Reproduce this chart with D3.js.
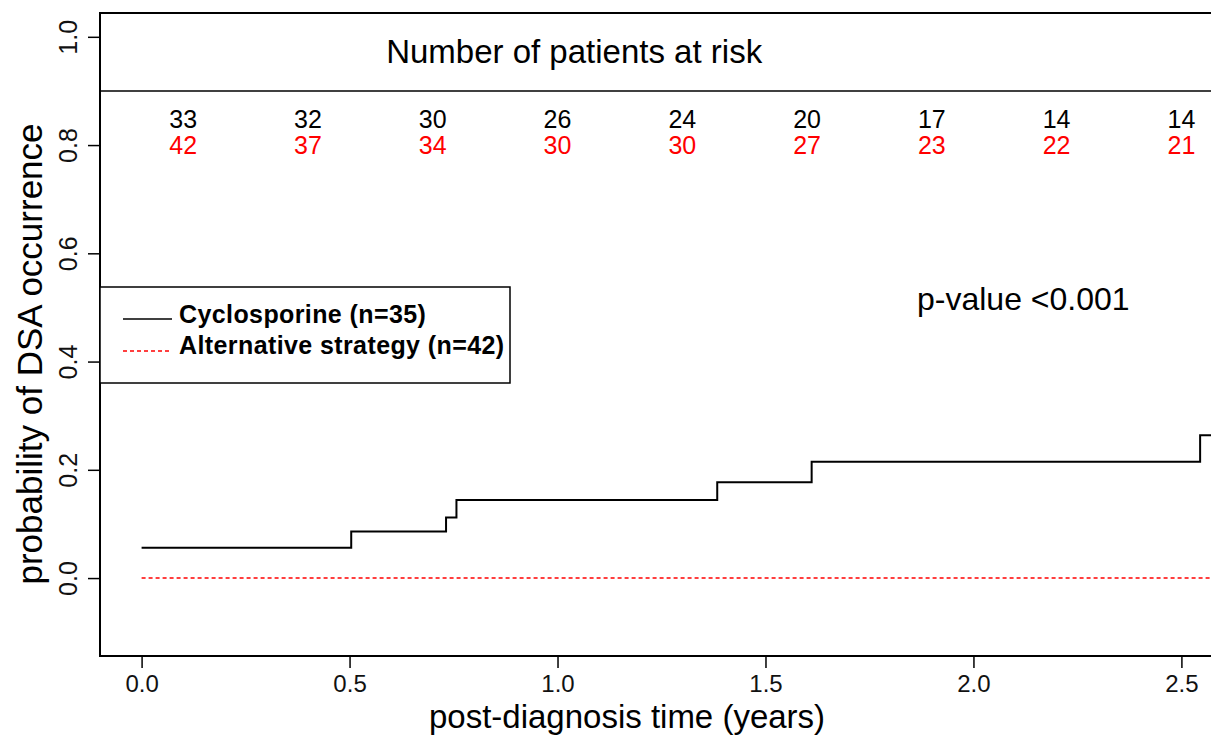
<!DOCTYPE html>
<html>
<head>
<meta charset="utf-8">
<script src="https://cdn.jsdelivr.net/npm/d3@7"></script>
<style>
  body { margin: 0; background: #fff; }
  text { font-family: "Liberation Sans", Arial, sans-serif; }
</style>
</head>
<body>
<div id="app"></div>
<script>
// numbers at risk, read every 0.3 years
var riskTimes = [0.1, 0.4, 0.7, 1.0, 1.3, 1.6, 1.9, 2.2, 2.5];
var riskCyclo = [33, 32, 30, 26, 24, 20, 17, 14, 14];
var riskAlt = [42, 37, 34, 30, 30, 27, 23, 22, 21];

// cumulative incidence step curves
var cycloTimes = [0, 0.504, 0.732, 0.757, 1.384, 1.611, 2.545];
var cycloProb = [0.056, 0.086, 0.112, 0.144, 0.177, 0.215, 0.264];
var altTimes = [0];
var altProb = [0];

var xTicks = [0, 0.5, 1.0, 1.5, 2.0, 2.5];
var yTicks = [0, 0.2, 0.4, 0.6, 0.8, 1.0];
var legendLabels = ["Cyclosporine (n=35)", "Alternative strategy (n=42)"];

var W = 1211, H = 736;
var svg = d3.select('#app').append('svg').attr('width', W).attr('height', H);

// the plot box runs off the right edge of the picture
var x = d3.scaleLinear().domain([-0.1, 2.6]).range([100, 1223]);
var y = d3.scaleLinear().domain([-0.144, 1.044]).range([656, 13]);

svg.append('rect')
  .attr('x', x(-0.1)).attr('y', y(1.044))
  .attr('width', x(2.6) - x(-0.1)).attr('height', y(-0.144) - y(1.044))
  .attr('fill', 'none').attr('stroke', '#000').attr('stroke-width', 2);

// axes (ticks only, the box is the axis line)
var xAxis = svg.append('g').attr('transform', 'translate(0,' + y(-0.144) + ')')
  .call(d3.axisBottom(x).tickValues(xTicks).tickSize(12).tickFormat(d3.format('.1f')));
xAxis.select('.domain').remove();
xAxis.selectAll('line').attr('stroke', '#000').attr('stroke-width', 1.5);
xAxis.selectAll('text').attr('font-size', 24).attr('dy', null).attr('y', 36)
  .attr('fill', '#111').style('font-family', '"Liberation Sans", Arial, sans-serif');

var yAxis = svg.append('g').attr('transform', 'translate(' + x(-0.1) + ',0)')
  .call(d3.axisLeft(y).tickValues(yTicks).tickSize(12).tickFormat(d3.format('.1f')));
yAxis.select('.domain').remove();
yAxis.selectAll('line').attr('stroke', '#000').attr('stroke-width', 1.5);
yAxis.selectAll('text').remove();
yAxis.selectAll('.tick').append('text')
  .attr('transform', 'translate(-23,0) rotate(-90)')
  .attr('text-anchor', 'middle')
  .attr('font-size', 25).attr('fill', '#111')
  .text(function(d) { return d3.format('.1f')(d); });

// axis titles
svg.append('text').attr('x', 627).attr('y', 728).attr('text-anchor', 'middle')
  .attr('font-size', 33).text('post-diagnosis time (years)');
svg.append('text').attr('transform', 'translate(42,' + 354 + ') rotate(-90)')
  .attr('text-anchor', 'middle').attr('font-size', 35).text('probability of DSA occurrence');

// risk table header
svg.append('line').attr('x1', x(-0.1)).attr('x2', x(2.6)).attr('y1', y(0.9)).attr('y2', y(0.9))
  .attr('stroke', '#000').attr('stroke-width', 1.5);
svg.append('text').attr('x', x(1.04)).attr('y', 63).attr('text-anchor', 'middle')
  .attr('font-size', 33).text('Number of patients at risk');

svg.selectAll('.riskC').data(riskCyclo).enter().append('text')
  .attr('class', 'riskC')
  .attr('x', function(d, i) { return x(riskTimes[i]); })
  .attr('y', y(0.85) + 10)
  .attr('text-anchor', 'middle').attr('font-size', 25).attr('fill', '#000')
  .text(function(d) { return d; });
svg.selectAll('.riskA').data(riskAlt).enter().append('text')
  .attr('class', 'riskA')
  .attr('x', function(d, i) { return x(riskTimes[i]); })
  .attr('y', y(0.8) + 9)
  .attr('text-anchor', 'middle').attr('font-size', 25).attr('fill', '#ff0000')
  .text(function(d) { return d; });

// step curves
var step = d3.line().curve(d3.curveStepAfter)
  .x(function(d) { return x(d[0]); })
  .y(function(d) { return y(d[1]); });

var cycloPts = cycloTimes.map(function(t, i) { return [t, cycloProb[i]]; });
cycloPts.push([2.6, cycloProb[cycloProb.length - 1]]);
var altPts = altTimes.map(function(t, i) { return [t, altProb[i]]; });
altPts.push([2.6, altProb[altProb.length - 1]]);

svg.append('path').attr('d', step(altPts)).attr('fill', 'none')
  .attr('stroke', '#ff0000').attr('stroke-width', 1.5).attr('stroke-dasharray', '4,3');
svg.append('path').attr('d', step(cycloPts)).attr('fill', 'none')
  .attr('stroke', '#000').attr('stroke-width', 2);

// p-value
svg.append('text').attr('x', 917).attr('y', 310).attr('font-size', 32).text('p-value <0.001');

// legend
var lg = svg.append('g');
lg.append('rect').attr('x', 100).attr('y', 287).attr('width', 410).attr('height', 96)
  .attr('fill', '#fff').attr('stroke', '#000').attr('stroke-width', 1.5);
lg.append('line').attr('x1', 123).attr('x2', 172).attr('y1', 319).attr('y2', 319)
  .attr('stroke', '#000').attr('stroke-width', 1.5);
lg.append('line').attr('x1', 123).attr('x2', 172).attr('y1', 351).attr('y2', 351)
  .attr('stroke', '#ff0000').attr('stroke-width', 1.5).attr('stroke-dasharray', '4,3');
lg.selectAll('.lt').data(legendLabels).enter().append('text')
  .attr('class', 'lt')
  .attr('x', 179).attr('y', function(d, i) { return 323 + i * 31; })
  .attr('font-size', 25).attr('font-weight', 'bold').attr('letter-spacing', 0.4)
  .text(function(d) { return d; });
</script>
</body>
</html>
